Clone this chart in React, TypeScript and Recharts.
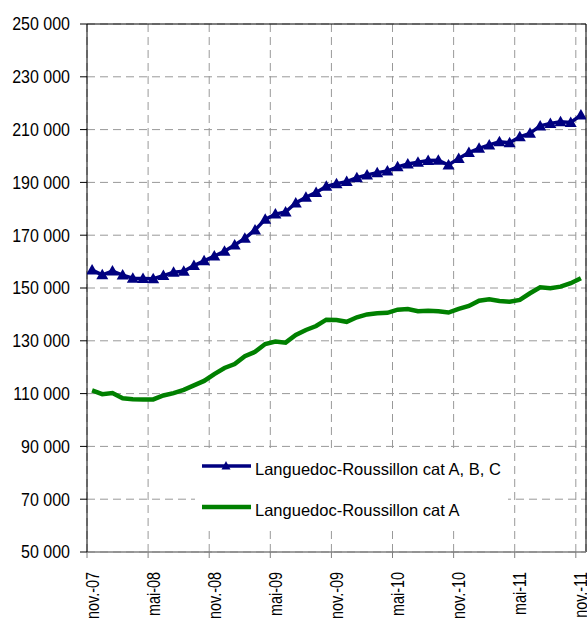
import React from "react";
import {
  LineChart,
  Line,
  XAxis,
  YAxis,
  CartesianGrid,
  ReferenceLine,
} from "recharts";

// months nov.-07 .. nov.-11
const months = [
  "nov.-07", "déc.-07", "janv.-08", "févr.-08", "mars-08", "avr.-08",
  "mai-08", "juin-08", "juil.-08", "août-08", "sept.-08", "oct.-08",
  "nov.-08", "déc.-08", "janv.-09", "févr.-09", "mars-09", "avr.-09",
  "mai-09", "juin-09", "juil.-09", "août-09", "sept.-09", "oct.-09",
  "nov.-09", "déc.-09", "janv.-10", "févr.-10", "mars-10", "avr.-10",
  "mai-10", "juin-10", "juil.-10", "août-10", "sept.-10", "oct.-10",
  "nov.-10", "déc.-10", "janv.-11", "févr.-11", "mars-11", "avr.-11",
  "mai-11", "juin-11", "juil.-11", "août-11", "sept.-11", "oct.-11",
  "nov.-11",
];

const catABC = [
  156800, 155000, 156400, 154900, 153700, 153600, 153500, 154700, 156000, 156300,
  158500, 160300, 162100, 163900, 166300, 168800, 172000, 176000, 178000, 178800,
  182200, 184400, 186200, 188500, 189500, 190300, 191800, 192800, 193700, 194300,
  195900, 197000, 197600, 198300, 198400, 196600, 199100, 201300, 202900, 204200,
  205400, 205000, 207300, 208600, 211400, 212300, 213000, 212700, 215500,
];

const catA = [
  111200, 109800, 110200, 108200, 107900, 107800, 107800, 109300, 110200, 111400,
  113100, 114800, 117400, 119700, 121200, 124200, 125800, 128800, 129700, 129300,
  132200, 134100, 135600, 138000, 137900, 137200, 138900, 140000, 140400, 140600,
  141800, 142000, 141200, 141400, 141200, 140700, 142100, 143200, 145200, 145700,
  145100, 144800, 145500, 148000, 150300, 149900, 150500, 151800, 153700,
];

const seriesNames = ["Languedoc-Roussillon cat A, B, C", "Languedoc-Roussillon cat A"];
const seriesColors = ["#000080", "#008000"];

const labelIdx = [0, 6, 12, 18, 24, 30, 36, 42, 48];
const yTicks = [50000, 70000, 90000, 110000, 130000, 150000, 170000, 190000, 210000, 230000, 250000];

const data = months.map((m, i) => ({ i, month: m, abc: catABC[i], a: catA[i] }));

const W = 587;
const H = 621;
const LEFT = 87;
const RIGHT = 1;
const HALF = (W - LEFT - RIGHT) / months.length / 2;
const FONT = "'Liberation Sans', Arial, sans-serif";

const fmt = (v: number) => `${Math.round(v / 1000)} 000`;

function YTick(props: any) {
  const { x, y, payload } = props;
  return (
    <text
      transform={`translate(${x},${y}) scale(0.89,1)`}
      textAnchor="end"
      dy="0.36em"
      fontSize={18}
      fontFamily={FONT}
      fill="#000"
    >
      {fmt(payload.value)}
    </text>
  );
}

function XTick(props: any) {
  const { x, y, payload } = props;
  const label = months[Math.round(payload.value + 0.5)];
  return (
    <text
      transform={`translate(${x + HALF},${y + 12}) rotate(-90) scale(0.8,1)`}
      textAnchor="end"
      dy="0.36em"
      fontSize={18}
      fontFamily={FONT}
      fill="#000"
    >
      {label}
    </text>
  );
}

function Triangle(props: any) {
  const { cx, cy, index } = props;
  if (cx == null || cy == null) return null;
  return (
    <polygon
      key={`t${index}`}
      points={`${cx},${cy - 6} ${cx - 6},${cy + 4.5} ${cx + 6},${cy + 4.5}`}
      fill="#000080"
    />
  );
}

function LegendBox() {
  return (
    <div
      style={{
        position: "absolute",
        left: 195,
        top: 452,
        width: 313,
        height: 76,
        background: "#fff",
      }}
    >
      <svg width={313} height={76}>
        {seriesNames.map((name, k) => {
          const cy = k === 0 ? 14 : 55;
          const color = seriesColors[k];
          return (
            <g key={name}>
              <line
                x1={7}
                x2={56}
                y1={cy}
                y2={cy}
                stroke={color}
                strokeWidth={k === 0 ? 3.5 : 4.5}
              />
              {k === 0 && (
                <polygon points={`31,${cy - 5} 26.5,${cy + 3.5} 35.5,${cy + 3.5}`} fill={color} />
              )}
              <text
                x={60}
                y={cy + 3}
                dy="0.36em"
                fontSize={16.5}
                fontFamily={FONT}
                fill="#000"
              >
                {name}
              </text>
            </g>
          );
        })}
      </svg>
    </div>
  );
}

export default function App() {
  return (
    <div style={{ position: "absolute", left: 0, top: 0, width: W, height: H, background: "#fff" }}>
      <LineChart
        width={W}
        height={H}
        data={data}
        margin={{ top: 24, right: RIGHT, left: 0, bottom: 0 }}
      >
        <CartesianGrid stroke="#999" strokeDasharray="8 5" />
        <XAxis
          type="number"
          dataKey="i"
          domain={[-0.5, 48.5]}
          ticks={labelIdx.map((i) => i - 0.5)}
          interval={0}
          height={69}
          tickSize={6}
          tickMargin={2}
          axisLine={{ stroke: "#808080", strokeWidth: 1.5 }}
          tickLine={{ stroke: "#808080" }}
          tick={<XTick />}
          allowDataOverflow
        />
        <YAxis
          type="number"
          domain={[50000, 250000]}
          ticks={yTicks}
          interval={0}
          width={LEFT}
          tickSize={7}
          tickMargin={10}
          axisLine={{ stroke: "#000" }}
          tickLine={{ stroke: "#000" }}
          tick={<YTick />}
          allowDataOverflow
        />
        <ReferenceLine y={250000} stroke="#000" strokeWidth={1} />
        <ReferenceLine x={48.5} stroke="#000" strokeWidth={1} />
        <Line
          dataKey="abc"
          name={seriesNames[0]}
          stroke={seriesColors[0]}
          strokeWidth={3.5}
          dot={<Triangle />}
          isAnimationActive={false}
        />
        <Line
          dataKey="a"
          name={seriesNames[1]}
          stroke={seriesColors[1]}
          strokeWidth={4.5}
          dot={false}
          isAnimationActive={false}
        />
      </LineChart>
      <LegendBox />
    </div>
  );
}
